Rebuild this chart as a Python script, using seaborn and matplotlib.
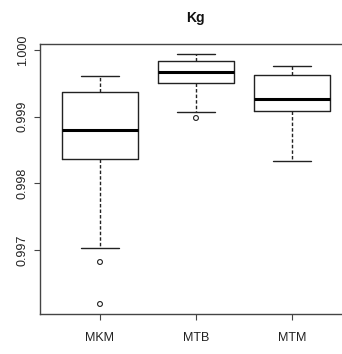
import pandas as pd
import matplotlib
matplotlib.use("Agg")
import matplotlib.pyplot as plt
import seaborn as sns

# box statistics: low whisker, Q1, median, Q3, high whisker
groups = ["MKM", "MTB", "MTM"]
mkm_box = [0.99703, 0.99836, 0.99880, 0.99937, 0.99961]
mtb_box = [0.99907, 0.99951, 0.99967, 0.99984, 0.99994]
mtm_box = [0.99834, 0.99909, 0.99926, 0.99963, 0.99976]

# points outside the whiskers
outlier_group = ["MKM", "MKM", "MTB"]
outlier_value = [0.99682, 0.99619, 0.99898]

yticks = [0.997, 0.998, 0.999, 1.000]
ytick_labels = ["0.997", "0.998", "0.999", "1.000"]

df = pd.DataFrame({
    "group": ["MKM"] * 5 + ["MTB"] * 5 + ["MTM"] * 5,
    "value": mkm_box + mtb_box + mtm_box,
})
out_df = pd.DataFrame({"group": outlier_group, "value": outlier_value})

sns.set_style("white")
plt.rcParams["font.family"] = ["Liberation Sans", "DejaVu Sans"]

fig = plt.figure(figsize=(3.42, 3.54), dpi=100)
ax = fig.add_axes([40 / 342, 40 / 354, 311 / 342, 270 / 354])

line = "#222222"
sns.boxplot(data=df, x="group", y="value", order=groups, whis=(0, 100),
            width=0.8, fill=False, color=line, linecolor=line, linewidth=1.0,
            showfliers=False, ax=ax,
            whiskerprops={"linestyle": (0, (2.5, 1.5)), "linewidth": 1.0},
            medianprops={"linewidth": 2.2, "color": "black"})
sns.stripplot(data=out_df, x="group", y="value", order=groups, jitter=False,
              marker="o", size=3.5, ax=ax)
# stripplot fills markers; redraw as open circles
for coll in ax.collections:
    coll.set_facecolor("none")
    coll.set_edgecolor(line)
    coll.set_linewidth(0.8)

ax.set_xlim(-0.625, 2.615)
ax.set_ylim(0.99604, 1.00009)
ax.set_yticks(yticks)
ax.set_yticklabels(ytick_labels, rotation=90, va="center", fontsize=9, color="#222222")
ax.set_xticklabels(groups, fontsize=9, color="#222222")
ax.tick_params(axis="both", direction="out", length=4, width=0.8, color="#444444",
               left=True, bottom=True)
ax.tick_params(axis="x", pad=9)
ax.tick_params(axis="y", pad=4)
ax.set_xlabel("")
ax.set_ylabel("")
for s in ax.spines.values():
    s.set_color("#444444")
    s.set_linewidth(1.0)

fig.text(195 / 342, 1 - 18 / 354, "Kg", ha="center", va="center",
         fontsize=10, fontweight="bold", color="#111111")

fig.savefig("out.png", dpi=100)
